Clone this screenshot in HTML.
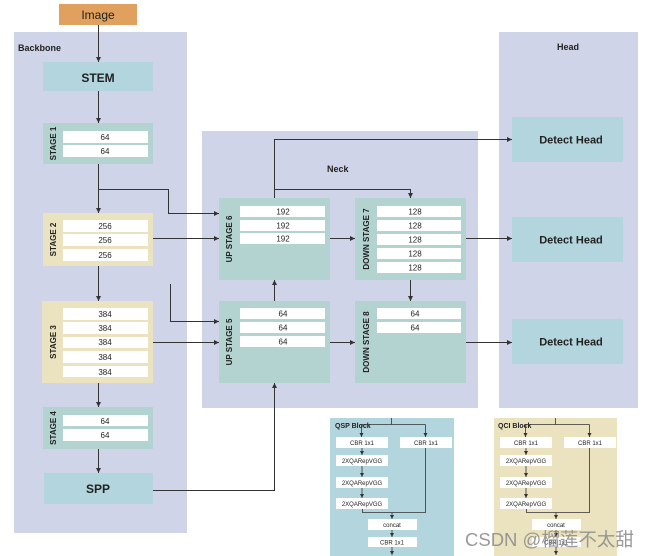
<!DOCTYPE html>
<html><head><meta charset="utf-8"><style>
html,body{margin:0;padding:0;background:#fff;}
svg{display:block;font-family:"Liberation Sans",Arial,sans-serif;}
</style></head><body>
<svg width="651" height="556" viewBox="0 0 651 556" xmlns="http://www.w3.org/2000/svg">
<defs>
<marker id="a" markerWidth="6" markerHeight="6" refX="5" refY="3" orient="auto" markerUnits="userSpaceOnUse"><path d="M0,0.5 L5,3 L0,5.5 Z" fill="#333"/></marker>
<marker id="s" markerWidth="5" markerHeight="5" refX="4" refY="2.5" orient="auto" markerUnits="userSpaceOnUse"><path d="M0,0.5 L4,2.5 L0,4.5 Z" fill="#333"/></marker>
</defs>
<rect x="14" y="32" width="173" height="501" fill="#d0d4e9"/>
<rect x="202" y="131" width="276" height="277" fill="#d0d4e9"/>
<rect x="499" y="32" width="139" height="376" fill="#d0d4e9"/>
<text x="18" y="51" font-size="9" font-weight="bold" fill="#222">Backbone</text>
<text x="327" y="172" font-size="9" font-weight="bold" fill="#222">Neck</text>
<text x="557" y="50" font-size="9" font-weight="bold" fill="#222">Head</text>
<rect x="59" y="4" width="78" height="21" fill="#e0a05e"/>
<text x="98" y="19" font-size="12" text-anchor="middle" fill="#222">Image</text>
<rect x="43" y="62" width="110" height="29" fill="#b3d5de"/>
<text x="98" y="82" font-size="12" font-weight="bold" text-anchor="middle" fill="#222">STEM</text>
<rect x="43" y="123" width="110" height="41" fill="#b2d3cf"/>
<rect x="63" y="131" width="85" height="12" fill="#fff"/><rect x="63" y="145" width="85" height="12" fill="#fff"/>
<g font-size="8" text-anchor="middle" fill="#222">
<text x="105" y="140">64</text><text x="105" y="154">64</text>
</g>
<text transform="translate(56,143.5) rotate(-90)" font-size="8" font-weight="bold" text-anchor="middle" fill="#222">STAGE 1</text>
<rect x="43" y="213" width="110" height="53" fill="#ebe3c0"/>
<rect x="63" y="220" width="85" height="12" fill="#fff"/><rect x="63" y="234" width="85" height="12" fill="#fff"/><rect x="63" y="249" width="85" height="12" fill="#fff"/>
<g font-size="8" text-anchor="middle" fill="#222">
<text x="105" y="229">256</text><text x="105" y="243">256</text><text x="105" y="258">256</text>
</g>
<text transform="translate(56,239.5) rotate(-90)" font-size="8" font-weight="bold" text-anchor="middle" fill="#222">STAGE 2</text>
<rect x="42" y="301" width="111" height="82" fill="#ebe3c0"/>
<g fill="#fff"><rect x="63" y="308" width="85" height="12"/><rect x="63" y="322" width="85" height="12"/><rect x="63" y="337" width="85" height="11"/><rect x="63" y="351" width="85" height="12"/><rect x="63" y="366" width="85" height="11"/></g>
<g font-size="8" text-anchor="middle" fill="#222">
<text x="105" y="317">384</text><text x="105" y="331">384</text><text x="105" y="345">384</text><text x="105" y="360">384</text><text x="105" y="375">384</text>
</g>
<text transform="translate(56,342) rotate(-90)" font-size="8" font-weight="bold" text-anchor="middle" fill="#222">STAGE 3</text>
<rect x="43" y="407" width="110" height="42" fill="#b2d3cf"/>
<rect x="63" y="415" width="85" height="11" fill="#fff"/><rect x="63" y="429" width="85" height="12" fill="#fff"/>
<g font-size="8" text-anchor="middle" fill="#222"><text x="105" y="424">64</text><text x="105" y="438">64</text></g>
<text transform="translate(56,428) rotate(-90)" font-size="8" font-weight="bold" text-anchor="middle" fill="#222">STAGE 4</text>
<rect x="44" y="473" width="109" height="31" fill="#b3d5de"/>
<text x="98" y="493" font-size="12" font-weight="bold" text-anchor="middle" fill="#222">SPP</text>
<rect x="219" y="198" width="111" height="82" fill="#b2d3cf"/>
<rect x="355" y="198" width="111" height="82" fill="#b2d3cf"/>
<rect x="219" y="301" width="111" height="82" fill="#b2d3cf"/>
<rect x="355" y="301" width="111" height="82" fill="#b2d3cf"/>
<g fill="#fff">
<rect x="240" y="206" width="85" height="11"/><rect x="240" y="220" width="85" height="11"/><rect x="240" y="233" width="85" height="11"/>
<rect x="377" y="206" width="84" height="11"/><rect x="377" y="220" width="84" height="11"/><rect x="377" y="234" width="84" height="11"/><rect x="377" y="248" width="84" height="11"/><rect x="377" y="262" width="84" height="11"/>
<rect x="240" y="308" width="85" height="11"/><rect x="240" y="322" width="85" height="11"/><rect x="240" y="336" width="85" height="11"/>
<rect x="377" y="308" width="84" height="11"/><rect x="377" y="322" width="84" height="11"/>
</g>
<g font-size="8" text-anchor="middle" fill="#222">
<text x="283" y="214.5">192</text><text x="283" y="228.5">192</text><text x="283" y="241.5">192</text>
<text x="415" y="214.5">128</text><text x="415" y="228.5">128</text><text x="415" y="242.5">128</text><text x="415" y="256.5">128</text><text x="415" y="270.5">128</text>
<text x="283" y="316.5">64</text><text x="283" y="330.5">64</text><text x="283" y="344.5">64</text>
<text x="415" y="316.5">64</text><text x="415" y="330.5">64</text>
</g>
<g font-size="8" font-weight="bold" text-anchor="middle" fill="#222">
<text transform="translate(232,239) rotate(-90)">UP STAGE 6</text>
<text transform="translate(369,239) rotate(-90)">DOWN STAGE 7</text>
<text transform="translate(232,342) rotate(-90)">UP STAGE 5</text>
<text transform="translate(369,342) rotate(-90)">DOWN STAGE 8</text>
</g>
<rect x="512" y="117" width="111" height="45" fill="#b3d5de"/>
<rect x="512" y="217" width="111" height="45" fill="#b3d5de"/>
<rect x="512" y="319" width="111" height="45" fill="#b3d5de"/>
<g font-size="11" font-weight="bold" text-anchor="middle" fill="#222">
<text x="571" y="143.5">Detect Head</text><text x="571" y="243.5">Detect Head</text><text x="571" y="345.5">Detect Head</text>
</g>
<g stroke="#333" stroke-width="1" fill="none" marker-end="url(#a)">
<path d="M98.5,25 V62"/>
<path d="M98.5,91 V123"/>
<path d="M98.5,164 V213"/>
<path d="M98.5,189.5 H168.5 V213.5 H219"/>
<path d="M153,238.5 H219"/>
<path d="M98.5,266 V301"/>
<path d="M170.5,284 V321.5 H219"/>
<path d="M153,342.5 H219"/>
<path d="M98.5,383 V407"/>
<path d="M98.5,449 V473"/>
<path d="M153,490.5 H274.5 V383"/>
<path d="M274.5,301 V280"/>
<path d="M274.5,198 V139.5 H512"/>
<path d="M274.5,189.5 H410.5 V198"/>
<path d="M330,238.5 H355"/>
<path d="M466,238.5 H512"/>
<path d="M410.5,280 V301"/>
<path d="M330,342.5 H355"/>
<path d="M466,342.5 H512"/>
</g>
<rect x="330" y="418" width="124" height="138" fill="#b3d5de"/>
<rect x="494" y="418" width="123" height="138" fill="#ebe3c0"/>
<g font-size="7" fill="#222">
<text x="335" y="428" font-weight="bold">QSP Block</text>
<text x="498" y="428" font-weight="bold">QCI Block</text>
</g>
<g fill="#fff">
<rect x="336" y="437" width="52" height="11"/><rect x="400" y="437" width="52" height="11"/>
<rect x="336" y="455" width="52" height="11"/><rect x="336" y="477" width="52" height="11"/><rect x="336" y="498" width="52" height="11"/>
<rect x="368" y="519" width="49" height="11"/><rect x="368" y="537" width="49" height="10"/>
<rect x="500" y="437" width="52" height="11"/><rect x="564" y="437" width="52" height="11"/>
<rect x="500" y="455" width="52" height="11"/><rect x="500" y="477" width="52" height="11"/><rect x="500" y="498" width="52" height="11"/>
<rect x="532" y="519" width="49" height="11"/><rect x="532" y="537" width="49" height="10"/>
</g>
<g font-size="6" text-anchor="middle" fill="#222">
<text x="362" y="445">CBR 1x1</text><text x="426" y="445">CBR 1x1</text>
<text x="362" y="463">2XQARepVGG</text><text x="362" y="485">2XQARepVGG</text><text x="362" y="506">2XQARepVGG</text>
<text x="392" y="527">concat</text><text x="392" y="544.5">CBR 1x1</text>
<text x="526" y="445">CBR 1x1</text><text x="590" y="445">CBR 1x1</text>
<text x="526" y="463">2XQARepVGG</text><text x="526" y="485">2XQARepVGG</text><text x="526" y="506">2XQARepVGG</text>
<text x="556" y="527">concat</text><text x="556" y="544.5">CBR 1x1</text>
</g>
<g stroke="#333" stroke-width="0.8" fill="none">
<path d="M391.5,418 V424.5 M361.5,424.5 H425.5"/>
<path d="M555.5,418 V424.5 M525.5,424.5 H589.5"/>
<path d="M425.5,448 V512.5 H362.5 V509"/>
<path d="M589.5,448 V512.5 H526.5 V509"/>
</g>
<g stroke="#333" stroke-width="0.8" fill="none" marker-end="url(#s)">
<path d="M361.5,424.5 V437"/><path d="M425.5,424.5 V437"/>
<path d="M362,448 V455"/><path d="M362,466 V477"/><path d="M362,488 V498"/>
<path d="M392,512.5 V519"/><path d="M392,530 V537"/><path d="M392,547 V555"/>
<path d="M525.5,424.5 V437"/><path d="M589.5,424.5 V437"/>
<path d="M526,448 V455"/><path d="M526,466 V477"/><path d="M526,488 V498"/>
<path d="M556,512.5 V519"/><path d="M556,530 V537"/><path d="M556,547 V555"/>
</g>
<text x="465" y="546" font-size="18.5" fill="#888" fill-opacity="0.85" font-family="'Liberation Sans','Noto Sans CJK SC',sans-serif">CSDN @榴莲不太甜</text>
</svg>
</body></html>
